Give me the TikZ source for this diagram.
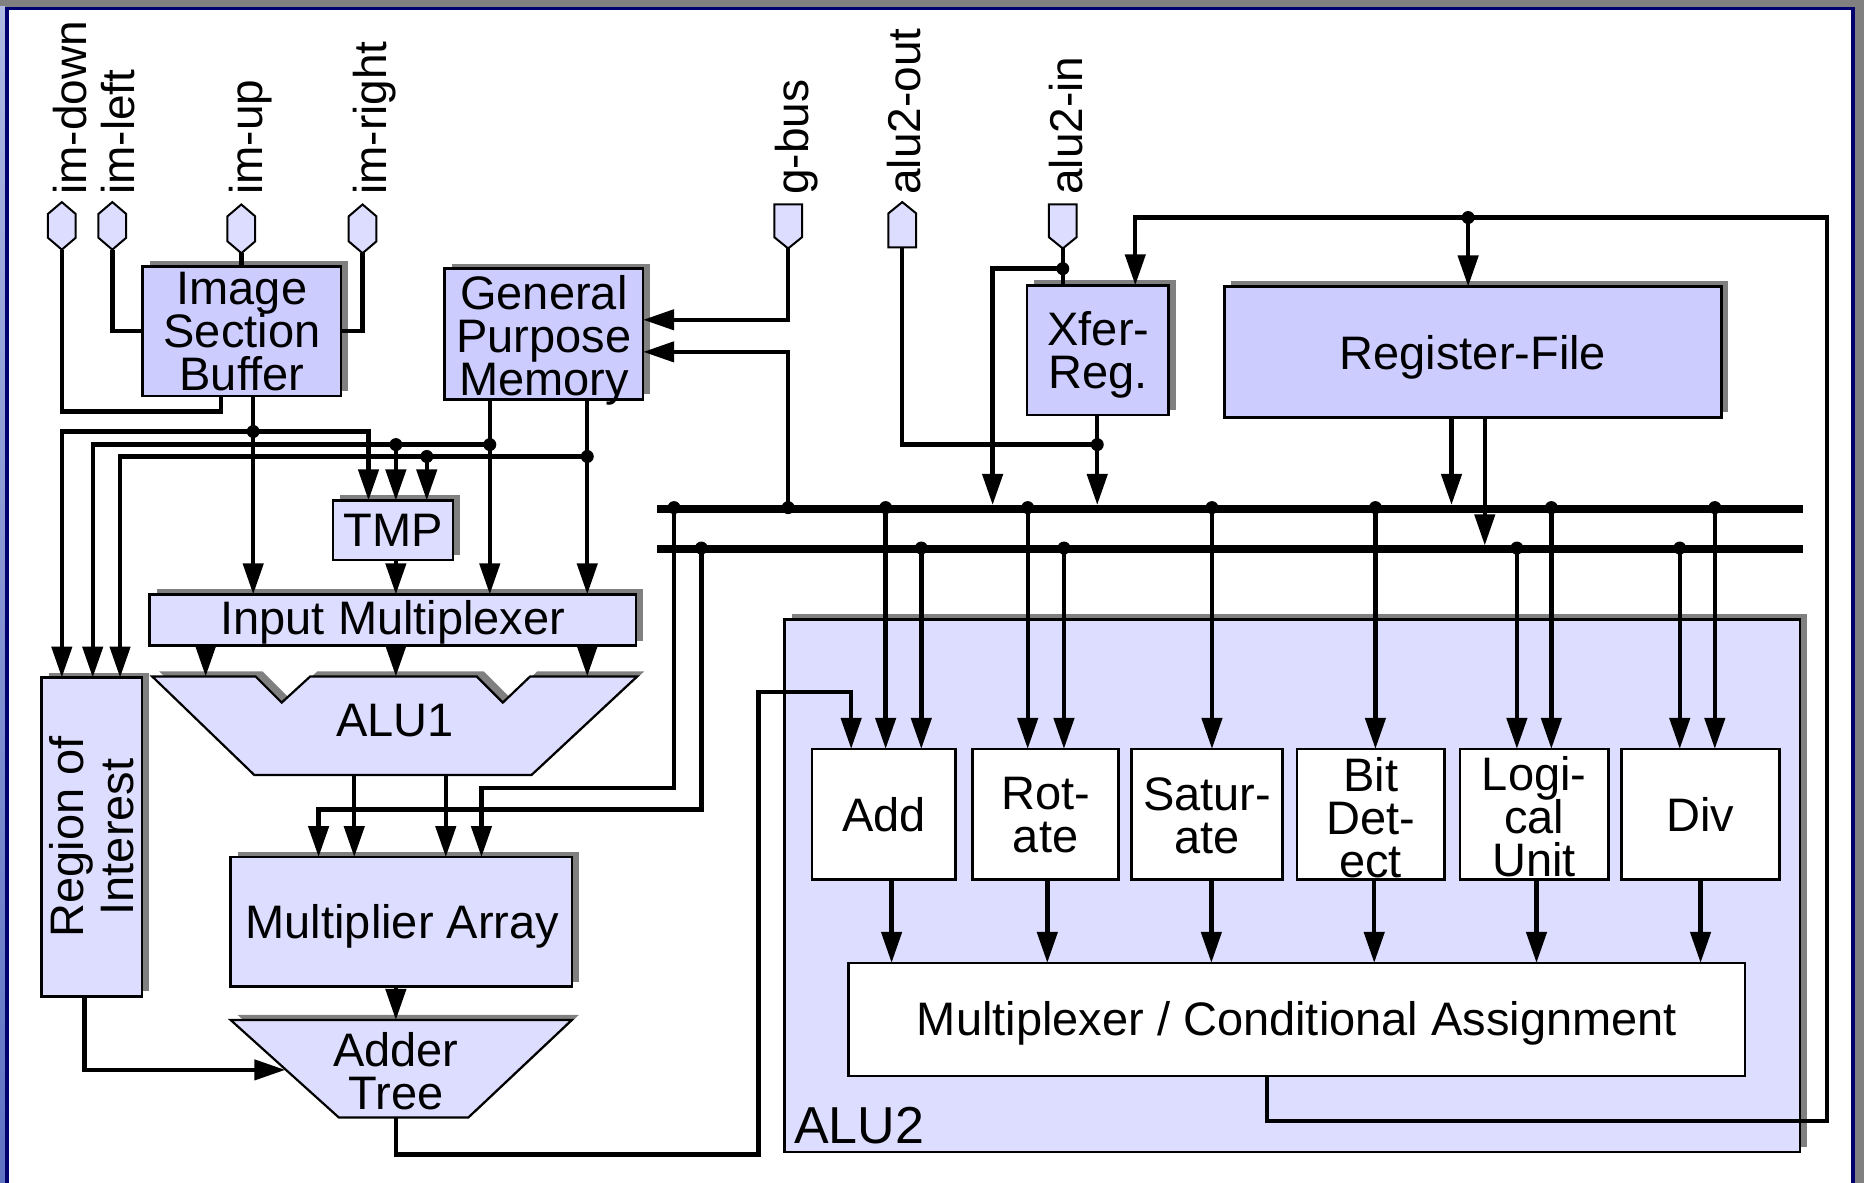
\documentclass[tikz,border=0pt]{standalone}
\usepackage{fontspec}
\setmainfont{Liberation Sans}
\usetikzlibrary{arrows.meta,shadows}
\definecolor{dk}{RGB}{204,204,255}
\definecolor{lt}{RGB}{221,221,255}
\definecolor{shd}{RGB}{128,128,128}
\definecolor{navy}{RGB}{0,0,110}
\definecolor{stripA}{RGB}{175,185,225}
\definecolor{stripB}{RGB}{95,115,195}
\newcommand\U{1.1888}
\newcommand\bx[6]{\node[#2, minimum width={((#5)-(#3))*\U pt}, minimum height={((#6)-(#4))*\U pt}] (#1) at ({((#3)+(#5))/2},{((#4)+(#6))/2}) {};}
\newcommand\jd[1]{\fill (#1) circle[radius=6.5pt];}
\newcommand\pinhex[4]{\filldraw[pin] (#2,#3) -- ({#2+11.7},{#3+10}) -- ({#2+11.7},{#4-10}) -- (#2,#4) -- ({#2-11.7},{#4-10}) -- ({#2-11.7},{#3+10}) -- cycle; \coordinate (#1) at (#2,#4);}
\newcommand\pindn[4]{\filldraw[pin] ({#2-11.7},#3) -- ({#2+11.7},#3) -- ({#2+11.7},{#4-9.5}) -- (#2,#4) -- ({#2-11.7},{#4-9.5}) -- cycle; \coordinate (#1) at (#2,#4);}
\newcommand\pinup[4]{\filldraw[pin] (#2,#3) -- ({#2+11.7},{#3+9.5}) -- ({#2+11.7},#4) -- ({#2-11.7},#4) -- ({#2-11.7},{#3+9.5}) -- cycle; \coordinate (#1) at (#2,#4);}
\tikzset{
 blk/.style={draw=black, line width=2.6pt, inner sep=0pt, outer sep=0pt},
 sdw/.style={drop shadow={shadow xshift=7pt, shadow yshift=5pt, fill=shd, opacity=1}},
 dkb/.style={blk, fill=dk, sdw},
 ltb/.style={blk, fill=lt, sdw},
 wtb/.style={blk, fill=white},
 txt/.style={inner sep=0pt, align=center, font={\fontsize{47}{43}\selectfont\lineskiplimit=-100pt\relax}},
 conn/.style={line width=4.4pt, line join=miter},
 arr/.style={conn, -{Triangle[length=31pt, width=20pt]}},
 bus/.style={line width=7.5pt},
 pin/.style={fill=lt, draw=black, line width=2pt, line join=miter},
 plbl/.style={inner sep=0pt, rotate=90, anchor=base west, font={\fontsize{46}{46}\selectfont}},
}
\begin{document}
\begin{tikzpicture}[x=1.1888pt, y=-1.1888pt]
\useasboundingbox (0,0) rectangle (1568,995);
% frame
\fill[white] (0,0) rectangle (1568,995);
\fill[shd] (0,0) rectangle (1568,5.6);
\fill[shd] (1560.3,0) rectangle (1568,995);
\shade[top color=stripA, bottom color=stripB] (0,5.6) rectangle (4.4,995);
\fill[navy] (4.2,5.6) rectangle (1560.3,8.4);
\fill[navy] (4.2,5.6) rectangle (7.6,995);
\fill[navy] (1557,5.6) rectangle (1560.3,995);

% big ALU2 box first
\bx{alu2}{ltb}{660}{521}{1514}{969}

% blocks
\bx{isb}{dkb}{120}{224}{287}{333}
\bx{gpm}{dkb}{374}{226}{541}{336}
\bx{xfer}{dkb}{864}{240}{983}{349}
\bx{rf}{dkb}{1030}{241}{1448}{351}
\bx{tmp}{ltb}{280}{421}{381}{471}
\bx{imux}{ltb}{126}{500}{535}{543}
\bx{roi}{ltb}{35}{570}{119.5}{838}
\bx{ma}{ltb}{194}{721}{481}{830}

% ALU1 trapezoid
\fill[shd, xshift=7pt, yshift=5pt] (128,569) -- (215,569) -- (237,591) -- (261,569) -- (401,569) -- (423,591) -- (446,569) -- (536,569) -- (447,652) -- (214,652) -- cycle;
\filldraw[fill=lt, draw=black, line width=2.2pt, line join=miter] (128,569) -- (215,569) -- (237,591) -- (261,569) -- (401,569) -- (423,591) -- (446,569) -- (536,569) -- (447,652) -- (214,652) -- cycle;
\coordinate (alu1top) at (333,569);
\coordinate (alu1bot) at (333,652);

% Adder tree trapezoid
\fill[shd, xshift=7pt, yshift=5pt] (194,858) -- (481,858) -- (394,940) -- (285,940) -- cycle;
\filldraw[fill=lt, draw=black, line width=2.2pt, line join=miter] (194,858) -- (481,858) -- (394,940) -- (285,940) -- cycle;
\coordinate (addtop) at (333,858);
\coordinate (addbot) at (333,940);
\coordinate (addleft) at (240,900);

% ALU2 units
\bx{uadd}{wtb}{683}{630}{804}{740}
\bx{urot}{wtb}{818}{630}{941}{740}
\bx{usat}{wtb}{952}{630}{1079}{740}
\bx{ubit}{wtb}{1091}{630}{1215}{740}
\bx{ulog}{wtb}{1228}{630}{1353}{740}
\bx{udiv}{wtb}{1364}{630}{1497}{740}
\bx{mux}{wtb}{714}{810}{1468}{905}

% pins
\pinhex{pDn}{52}{170}{210}
\pinhex{pLf}{94.5}{170}{210}
\pinhex{pUp}{203}{172}{213}
\pinhex{pRt}{305}{172}{213}
\pindn{pGb}{663}{172}{209}
\pinup{pAo}{759}{170}{208}
\pindn{pAi}{894}{172}{209}

\node[plbl] (lDn) at (73,164) {im-down};
\node[plbl] (lLf) at (113,164) {im-left};
\node[plbl] (lUp) at (221,164) {im-up};
\node[plbl] (lRt) at (325,164) {im-right};
\node[plbl] (lGb) at (680,164) {g-bus};
\node[plbl] (lAo) at (774,164) {alu2-out};
\node[plbl] (lAi) at (911,164) {alu2-in};

% buses
\coordinate (busAL) at (553,428); \coordinate (busAR) at (1517,428);
\coordinate (busBL) at (553,462); \coordinate (busBR) at (1517,462);
\coordinate (busAt) at (553,424.8); \coordinate (busBt) at (553,458.8);
\draw[bus] (busAL) -- (busAR);
\draw[bus] (busBL) -- (busBR);

% ISB pins
\draw[conn] (pDn) |- (186,346) -- (186,0 |- isb.south);
\draw[conn] (pLf) |- (isb.west);
\draw[conn] (pUp) -- (pUp |- isb.north);
\draw[conn] (pRt) |- (isb.east);

% ISB output
\draw[arr] (213,0 |- isb.south) -- (213,0 |- imux.north);
\draw[arr] (213,363) -| (310,0 |- tmp.north);
\draw[arr] (213,363) -| (52,0 |- roi.north);
% GPM outputs
\draw[arr] (412,0 |- gpm.south) -- (412,0 |- imux.north);
\draw[arr] (494,0 |- gpm.south) -- (494,0 |- imux.north);
\draw[arr] (412,374) -| (78,0 |- roi.north);
\draw[arr] (333,374) -- (333,0 |- tmp.north);
\draw[arr] (494,384) -| (101,0 |- roi.north);
\draw[arr] (359,384) -- (359,0 |- tmp.north);
\jd{213,363} \jd{333,374} \jd{412,374} \jd{359,384} \jd{494,384}
% TMP -> input mux
\draw[arr] (333,0 |- tmp.south) -- (333,0 |- imux.north);
% input mux -> ALU1
\draw[arr] (173,0 |- imux.south) -- (173,0 |- alu1top);
\draw[arr] (333,0 |- imux.south) -- (333,0 |- alu1top);
\draw[arr] (494,0 |- imux.south) -- (494,0 |- alu1top);
% ALU1 -> multiplier array
\draw[arr] (298,0 |- alu1bot) -- (298,0 |- ma.north);
\draw[arr] (375,0 |- alu1bot) -- (375,0 |- ma.north);
% buses -> multiplier array
\draw[arr] (567,0 |- busAL) -- (567,663) -| (405,0 |- ma.north);
\draw[arr] (590,0 |- busBL) -- (590,681) -| (268,0 |- ma.north);
% MA -> adder tree
\draw[arr] (333,0 |- ma.south) -- (addtop);
% ROI -> adder tree
\draw[arr] (71,0 |- roi.south) |- (addleft);
% adder tree -> Add
\draw[arr] (addbot) -- (333,971) -| (638,582) -| (716,0 |- uadd.north);
% mux feedback
\draw[arr] (1066,0 |- mux.south) -- (1066,943) -| (1537,183) -| (955,0 |- xfer.north);
\draw[arr] (1235,183) -- (1235,0 |- rf.north);
\jd{1235,183}
% alu2-in
\draw[conn] (pAi) -- (pAi |- xfer.north);
\draw[arr] (894,226) -| (835,0 |- busAt);
\jd{894,226}
% alu2-out and Xfer
\draw[conn] (pAo) |- (923,374);
\draw[arr] (923,0 |- xfer.south) -- (923,0 |- busAt);
\jd{923,374}
% g-bus
\draw[arr] (pGb) |- (gpm.east |- 0,269);
\draw[arr] (663,0 |- busAL) -- (663,296) -- (gpm.east |- 0,296);
% register file outputs
\draw[arr] (1221,0 |- rf.south) -- (1221,0 |- busAt);
\draw[arr] (1249,0 |- rf.south) -- (1249,0 |- busBt);

% bus taps into ALU2 units
\foreach \xx/\uu in {745/uadd, 864.5/urot, 1019.5/usat, 1157/ubit, 1305/ulog, 1442.5/udiv}{
  \draw[arr] (\xx,0 |- busAL) -- (\xx,0 |- \uu.north);
  \fill (\xx,427) circle[radius=6.5pt];
}
\foreach \xx/\uu in {775/uadd, 895/urot, 1276/ulog, 1413/udiv}{
  \draw[arr] (\xx,0 |- busBL) -- (\xx,0 |- \uu.north);
  \fill (\xx,461) circle[radius=6.5pt];
}
\fill (567,427) circle[radius=6.5pt];
\fill (663,427) circle[radius=6.5pt];
\fill (590,461) circle[radius=6.5pt];
% units -> mux
\foreach \xx/\uu in {750/uadd, 881/urot, 1019/usat, 1156/ubit, 1292.5/ulog, 1430.5/udiv}{
  \draw[arr] (\xx,0 |- \uu.south) -- (\xx,0 |- mux.north);
}

% texts
\node[txt] (isbT) at (203.5,279) {Image\\Section\\Buffer};
\node[txt] (gpmT) at (457.5,286) {General\\Purpose\\Memory};
\node[txt] (xferT) at (924,298.5) {Xfer-\\Reg.};
\node[txt] (rfT) at (1239,300.5) {Register-File};
\node[txt] (tmpT) at (330.5,446) {TMP};
\node[txt] (imT) at (330.5,523.5) {Input Multiplexer};
\node[txt] (alu1T) at (332.5,606) {ALU1};
\node[txt, rotate=90, font={\fontsize{47}{50}\selectfont\lineskiplimit=-100pt\relax}] (roiT) at (77,704) {Region of\\Interest};
\node[txt] (maT) at (338.5,779.5) {Multiplier Array};
\node[txt] (addT) at (333,901) {Adder\\Tree};
\node[txt, font={\fontsize{52}{52}\selectfont}, anchor=base west] (alu2T) at (668,962) {ALU2};
\node[txt] (uaddT) at (743.5,685) {Add};
\node[txt] (urotT) at (879.5,686) {Rot-\\ate};
\node[txt] (usatT) at (1015.5,686) {Satur-\\ate};
\node[txt] (ubitT) at (1153,688) {Bit\\Det-\\ect};
\node[txt] (ulogT) at (1290.5,687) {Logi-\\cal\\Unit};
\node[txt] (udivT) at (1430.5,685) {Div};
\node[txt] (muxT) at (1091,861) {Multiplexer / Conditional Assignment};
\end{tikzpicture}
\end{document}
